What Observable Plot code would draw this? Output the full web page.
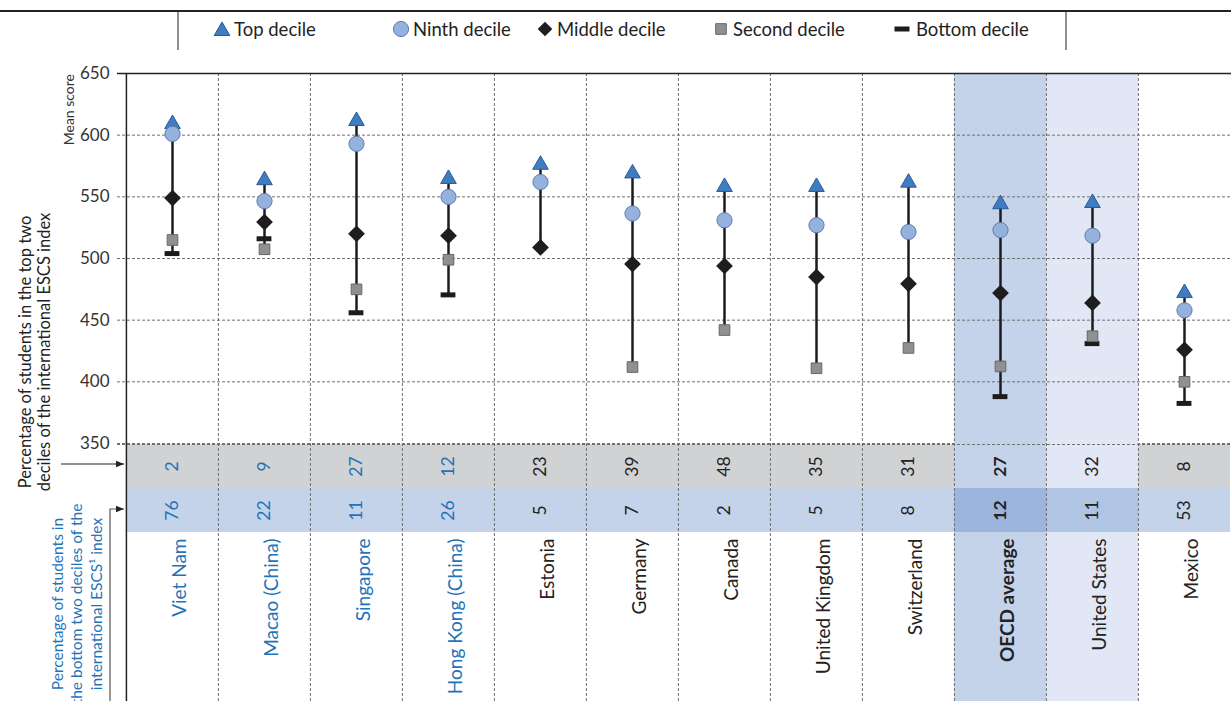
<!DOCTYPE html>
<html>
<head>
<meta charset="utf-8">
<script src="https://cdn.jsdelivr.net/npm/d3@7"></script>
<script src="https://cdn.jsdelivr.net/npm/@observablehq/plot@0.6"></script>
<style>
  html, body { margin: 0; padding: 0; background: #fff; }
  #wrap { position: relative; width: 1231px; height: 701px; overflow: hidden; font-family: Lato, "Open Sans", sans-serif; }
  #wrap > * { position: absolute; left: 0; }
</style>
</head>
<body>
<div id="wrap"></div>
<script>
// ---------- data ----------
const countries = ["Viet Nam", "Macao (China)", "Singapore", "Hong Kong (China)", "Estonia", "Germany",
  "Canada", "United Kingdom", "Switzerland", "OECD average", "United States", "Mexico"];
const topDecile    = [609, 563.5, 611.5, 564.5, 576, 569, 558, 558, 561.5, 544, 545, 472];
const ninthDecile  = [601, 546.5, 593, 550, 562, 536.5, 531, 527, 521.5, 523, 518.5, 458];
const middleDecile = [549, 529.5, 520, 518.5, 509, 495.5, 494, 485, 479.5, 472, 464, 426];
const secondDecile = [515, 507.5, 475, 499, null, 412, 442, 411, 427.5, 412.5, 437, 400];
const bottomDecile = [504, 516, 456, 470.5, null, null, null, null, null, 388, 431, 382.5];
const pctTopTwo    = [2, 9, 27, 12, 23, 39, 48, 35, 31, 27, 32, 8];
const pctBottomTwo = [76, 22, 11, 26, 5, 7, 2, 5, 8, 12, 11, 53];
const blueLabelCountries = ["Viet Nam", "Macao (China)", "Singapore", "Hong Kong (China)"];
const averageName = "OECD average";
const focusName = "United States";
const yTicks = [350, 400, 450, 500, 550, 600, 650];
const legendLabels = ["Top decile", "Ninth decile", "Middle decile", "Second decile", "Bottom decile"];

// ---------- layout / style ----------
const W = 1231, ML = 125, TOP_H = 443, BOT_H = 258;
const bw = (W - ML) / countries.length;
const FONT = "Lato, 'Open Sans', sans-serif";
const BLUE_TEXT = "#1f74ba", DARK = "#222";
const GRID = {stroke: "#707070", strokeDasharray: "3,2", strokeWidth: 1};
const C = {
  tri: "#3f7cc2", triS: "#2a5b93",
  circ: "#95b2de", circS: "#5d7cae",
  dia: "#1e1e1e",
  sq: "#8f9092", sqS: "#676767",
  grey: "#d1d2d4", blueRow: "#c5d3ea",
  avgCol: "#c5d3ea", avgBot: "#9db4dd",
  focCol: "#e1e7f4", focBot: "#b0c4e4"
};

const rows = countries.map((c, i) => {
  const vals = [topDecile[i], ninthDecile[i], middleDecile[i], secondDecile[i], bottomDecile[i]].filter(v => v != null);
  return {
    country: c, top: topDecile[i], ninth: ninthDecile[i], middle: middleDecile[i],
    second: secondDecile[i], bottom: bottomDecile[i],
    lo: d3.min(vals), hi: d3.max(vals),
    pTop: pctTopTwo[i], pBot: pctBottomTwo[i],
    textColor: blueLabelCountries.includes(c) ? BLUE_TEXT : DARK,
    bold: c === averageName
  };
});
const colBg = rows.filter(r => r.country === averageName || r.country === focusName)
  .map(r => ({country: r.country, fill: r.country === averageName ? C.avgCol : C.focCol}));

const xScale = {type: "band", domain: countries, padding: 0, axis: null};
const wrap = document.getElementById("wrap");

// ---------- main chart ----------
const main = Plot.plot({
  width: W, height: TOP_H,
  marginTop: 73, marginBottom: 0, marginLeft: ML, marginRight: 0,
  style: {fontFamily: FONT, background: "transparent", overflow: "visible", color: DARK},
  x: xScale,
  y: {domain: [350, 650], axis: null},
  marks: [
    Plot.cell(colBg, {x: "country", fill: "fill"}),
    Plot.ruleY(yTicks.filter(t => t < 650), {...GRID, insetLeft: -8}),
    Plot.ruleX(countries.slice(1), {...GRID, dx: -bw / 2}),
    Plot.ruleY([650], {stroke: DARK, strokeWidth: 1.5, insetLeft: -8}),
    Plot.ruleX([countries[0]], {dx: -bw / 2, stroke: DARK, strokeWidth: 1.5}),
    Plot.axisY({ticks: yTicks, tickSize: 0, tickPadding: 16, fontSize: 17, label: null, fill: "#333"}),
    Plot.ruleX(rows, {x: "country", y1: "lo", y2: "hi", stroke: "#1c1c1c", strokeWidth: 2.5}),
    Plot.tickY(rows.filter(r => r.bottom != null), {x: "country", y: "bottom", stroke: "#1c1c1c", strokeWidth: 5,
      insetLeft: (bw - 15) / 2, insetRight: (bw - 15) / 2}),
    Plot.dot(rows.filter(r => r.second != null), {x: "country", y: "second", symbol: "square", r: 6,
      fill: C.sq, stroke: C.sqS, strokeWidth: 1}),
    Plot.dot(rows, {x: "country", y: "middle", symbol: "diamond2", r: 6.6, fill: C.dia, stroke: C.dia}),
    Plot.dot(rows, {x: "country", y: "top", symbol: "triangle", r: 5.8, fill: C.tri, stroke: C.triS, strokeWidth: 1}),
    Plot.dot(rows, {x: "country", y: "ninth", symbol: "circle", r: 7.6, fill: C.circ, stroke: C.circS, strokeWidth: 1})
  ]
});
main.style.top = "0px";
wrap.appendChild(main);

// ---------- table below ----------
const cells = rows.flatMap(r => [
  {country: r.country, row: "top", value: r.pTop, textColor: r.textColor, bold: r.bold,
   fill: r.country === averageName ? C.avgCol : r.country === focusName ? C.focCol : C.grey},
  {country: r.country, row: "bottom", value: r.pBot, textColor: r.textColor, bold: r.bold,
   fill: r.country === averageName ? C.avgBot : r.country === focusName ? C.focBot : C.blueRow}
]);

const numText = (data, weight) => Plot.text(data, {x: "country", y: "row", text: d => String(d.value),
  rotate: -90, fontSize: 17.5, fill: "textColor", fontWeight: weight});
const nameText = (data, weight) => Plot.text(data, {x: "country", frameAnchor: "top", dy: 95, text: "country",
  rotate: -90, textAnchor: "end", fontSize: 19, fill: "textColor", fontWeight: weight});

const table = Plot.plot({
  width: W, height: BOT_H,
  marginTop: 0, marginBottom: 0, marginLeft: ML, marginRight: 0,
  style: {fontFamily: FONT, background: "transparent", overflow: "visible", color: DARK},
  x: xScale,
  y: {type: "band", domain: ["top", "bottom"], range: [0, 89], padding: 0, axis: null},
  marks: [
    Plot.cell(colBg, {x: "country", fill: "fill"}),
    Plot.cell(cells, {x: "country", y: "row", fill: "fill"}),
    Plot.ruleY(["top"], {...GRID, dy: -22, insetLeft: -8}),
    Plot.ruleX(countries.slice(1), {...GRID, dx: -bw / 2}),
    Plot.ruleX([countries[0]], {dx: -bw / 2, stroke: DARK, strokeWidth: 1.5}),
    numText(cells.filter(d => !d.bold), "normal"),
    numText(cells.filter(d => d.bold), "bold"),
    nameText(rows.filter(d => !d.bold), "normal"),
    nameText(rows.filter(d => d.bold), "bold")
  ]
});
table.style.top = TOP_H + "px";
wrap.appendChild(table);

// ---------- legend and annotations ----------
const ov = d3.select(wrap).append("svg")
  .attr("width", W).attr("height", 701)
  .style("top", "0px").style("pointer-events", "none")
  .style("font-family", FONT);

ov.append("line").attr("x1", 0).attr("x2", W).attr("y1", 11).attr("y2", 11).attr("stroke", DARK).attr("stroke-width", 2);
[178, 1066].forEach(x => ov.append("line").attr("x1", x).attr("x2", x).attr("y1", 11).attr("y2", 50)
  .attr("stroke", DARK).attr("stroke-width", 1));

const legendX = [222, 401, 545, 721, 902];
const LY = 29;
const sym = (type, r) => d3.symbol(type, Math.PI * r * r)();
ov.append("path").attr("d", sym(d3.symbolTriangle, 5.8)).attr("transform", `translate(${legendX[0]},${LY + 2})`)
  .attr("fill", C.tri).attr("stroke", C.triS);
ov.append("path").attr("d", sym(d3.symbolCircle, 7.6)).attr("transform", `translate(${legendX[1]},${LY})`)
  .attr("fill", C.circ).attr("stroke", C.circS);
ov.append("path").attr("d", sym(d3.symbolDiamond2, 6.6)).attr("transform", `translate(${legendX[2]},${LY})`)
  .attr("fill", C.dia);
ov.append("path").attr("d", sym(d3.symbolSquare, 6)).attr("transform", `translate(${legendX[3]},${LY})`)
  .attr("fill", C.sq).attr("stroke", C.sqS);
ov.append("rect").attr("x", legendX[4] - 7.5).attr("y", LY - 2.5).attr("width", 15).attr("height", 5).attr("fill", "#1c1c1c");
legendLabels.forEach((t, i) => ov.append("text").attr("x", legendX[i] + (i === 4 ? 14 : 12)).attr("y", LY)
  .attr("dominant-baseline", "central").attr("font-size", 18.5).attr("fill", DARK).text(t));

// left side labels
const vtext = (x, y, str, size, fill, anchor = "middle") => ov.append("text")
  .attr("transform", `translate(${x},${y}) rotate(-90)`)
  .attr("text-anchor", anchor).attr("dominant-baseline", "central")
  .attr("font-size", size).attr("fill", fill).text(str);
vtext(68, 74, "Mean score", 14, "#333", "end");
vtext(25, 352, "Percentage of students in the top two", 16.5, DARK);
vtext(44, 352, "deciles of the international ESCS index", 16.5, DARK);
vtext(57, 604, "Percentage of students in", 15.5, BLUE_TEXT);
vtext(76, 604, "the bottom two deciles of the", 15.5, BLUE_TEXT);
vtext(96, 604, "international ESCS\u00B9 index", 15.5, BLUE_TEXT);

// arrows
const defs = ov.append("defs");
defs.append("marker").attr("id", "ah").attr("viewBox", "0 0 10 10").attr("refX", 10).attr("refY", 5)
  .attr("markerWidth", 7).attr("markerHeight", 7).attr("orient", "auto")
  .append("path").attr("d", "M0,1 L10,5 L0,9 Z").attr("fill", DARK);
ov.append("line").attr("x1", 61).attr("x2", 124).attr("y1", 464).attr("y2", 464)
  .attr("stroke", DARK).attr("stroke-width", 1.2).attr("marker-end", "url(#ah)");
ov.append("path").attr("d", "M110,701 L110,509 L124,509").attr("fill", "none")
  .attr("stroke", "#555").attr("stroke-width", 1.2).attr("marker-end", "url(#ah)");
</script>
</body>
</html>
